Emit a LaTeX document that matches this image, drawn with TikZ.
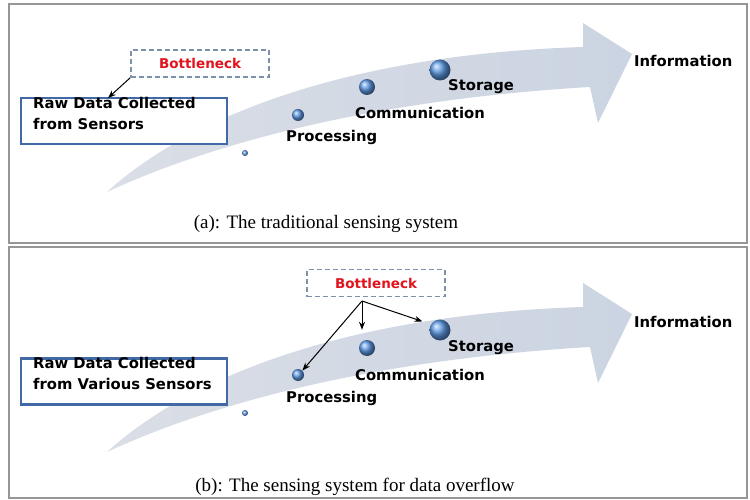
\documentclass[tikz,border=0pt]{standalone}
\usepackage{fontspec}
\setmainfont{Liberation Serif}
\setsansfont{DejaVu Sans}
\usetikzlibrary{arrows.meta,calc}
\definecolor{frameg}{RGB}{150,150,150}
\definecolor{boxblue}{RGB}{65,105,165}
\definecolor{dashg}{RGB}{125,145,170}
\definecolor{bnred}{RGB}{225,20,30}
\definecolor{swL}{RGB}{218,222,230}
\definecolor{swR}{RGB}{203,212,226}
\definecolor{ballb}{RGB}{95,155,230}
\begin{document}
\begin{tikzpicture}[x=1pt,y=-1pt,
  lab/.style={font=\sffamily\bfseries\fontsize{14.8}{16}\selectfont,inner sep=0pt,anchor=west},
  rawbox/.style={draw=boxblue,line width=2.8pt,minimum width=206pt,minimum height=46pt,inner sep=0pt},
  rawtext/.style={font=\sffamily\bfseries\fontsize{14.8}{21}\selectfont,align=left,anchor=north west,inner sep=0pt},
  bnbox/.style={draw=dashg,dash pattern=on 5pt off 3pt,line width=1.2pt,minimum width=138pt,minimum height=27pt,inner sep=0pt,
     font=\sffamily\bfseries\fontsize{13.5}{15}\selectfont,text=bnred},
  captext/.style={font=\fontsize{19}{22}\selectfont,inner sep=0pt},
  swoosh/.style={left color=swL,right color=swR,draw=none},
  ball/.style={circle,shading=ball,ball color=ballb,inner sep=0pt,draw=none},
  arr/.style={-{Stealth[length=8pt,width=6pt]},line width=1pt},
  frm/.style={draw=frameg,line width=1.6pt}
]
\useasboundingbox (0,0) rectangle (750,500);
\fill[white] (0,0) rectangle (750,500);
% frames
\draw[frm] (9,4) rectangle (747,243);
\draw[frm] (9,247) rectangle (747,498);

% ---------- panel (a) ----------
\shade[swoosh] (107,192) .. controls (180,125) and (330,55) .. (583,47)
  -- (583,23) -- (632,54) -- (598,123) -- (590,87)
  .. controls (400,98) and (230,135) .. (107,192) -- cycle;
\node[ball,minimum size=6pt] (a1) at (245,153) {};
\node[ball,minimum size=12pt] (a2) at (298,115) {};
\node[ball,minimum size=16pt] (a3) at (367,87) {};
\node[ball,minimum size=21pt] (a4) at (440,70) {};
\node[lab] (pa) at (286,137) {Processing};
\node[lab] (ca) at (355,113) {Communication};
\node[lab] (sa) at (448,87) {Storage};
\node[lab] (ia) at (634,61) {Information};
\node[rawbox,fill=white] (rawa) at (124,121) {};
\node[rawtext] (rta) at (33,97) {Raw Data Collected\\from Sensors};
\node[bnbox] (bna) at (200,63.5) {Bottleneck};
\coordinate (ea) at (108,98);
\draw[arr] (bna.south west) -- (ea);
\node[captext] (capa) at (326,224) {(a): The traditional sensing system};

% ---------- panel (b) ----------
\begin{scope}[yshift=-260pt]
\shade[swoosh] (107,192) .. controls (180,125) and (330,55) .. (583,47)
  -- (583,23) -- (632,54) -- (598,123) -- (590,87)
  .. controls (400,98) and (230,135) .. (107,192) -- cycle;
\end{scope}
\node[ball,minimum size=6pt] (b1) at (245,413) {};
\node[ball,minimum size=12pt] (b2) at (298,375) {};
\node[ball,minimum size=16pt] (b3) at (367,348) {};
\node[ball,minimum size=21pt] (b4) at (440,330) {};
\node[lab] (pb) at (286,398) {Processing};
\node[lab] (cb) at (355,375) {Communication};
\node[lab] (sb) at (448,348) {Storage};
\node[lab] (ib) at (634,322) {Information};
\node[rawbox,fill=white] (rawb) at (124,381.5) {};
\node[rawtext] (rtb) at (33,357) {Raw Data Collected\\from Various Sensors};
\node[bnbox] (bnb) at (376,283) {Bottleneck};
\coordinate (jb) at (362,301);
\draw[arr] (jb) -- (b2.north east);
\draw[arr] (jb) -- ($(b3.north)+(-5,-10)$);
\draw[arr] (jb) -- ($(b4.north west)+(-10,-1)$);
\node[captext] (capb) at (355,487) {(b): The sensing system for data overflow};
\end{tikzpicture}
\end{document}
